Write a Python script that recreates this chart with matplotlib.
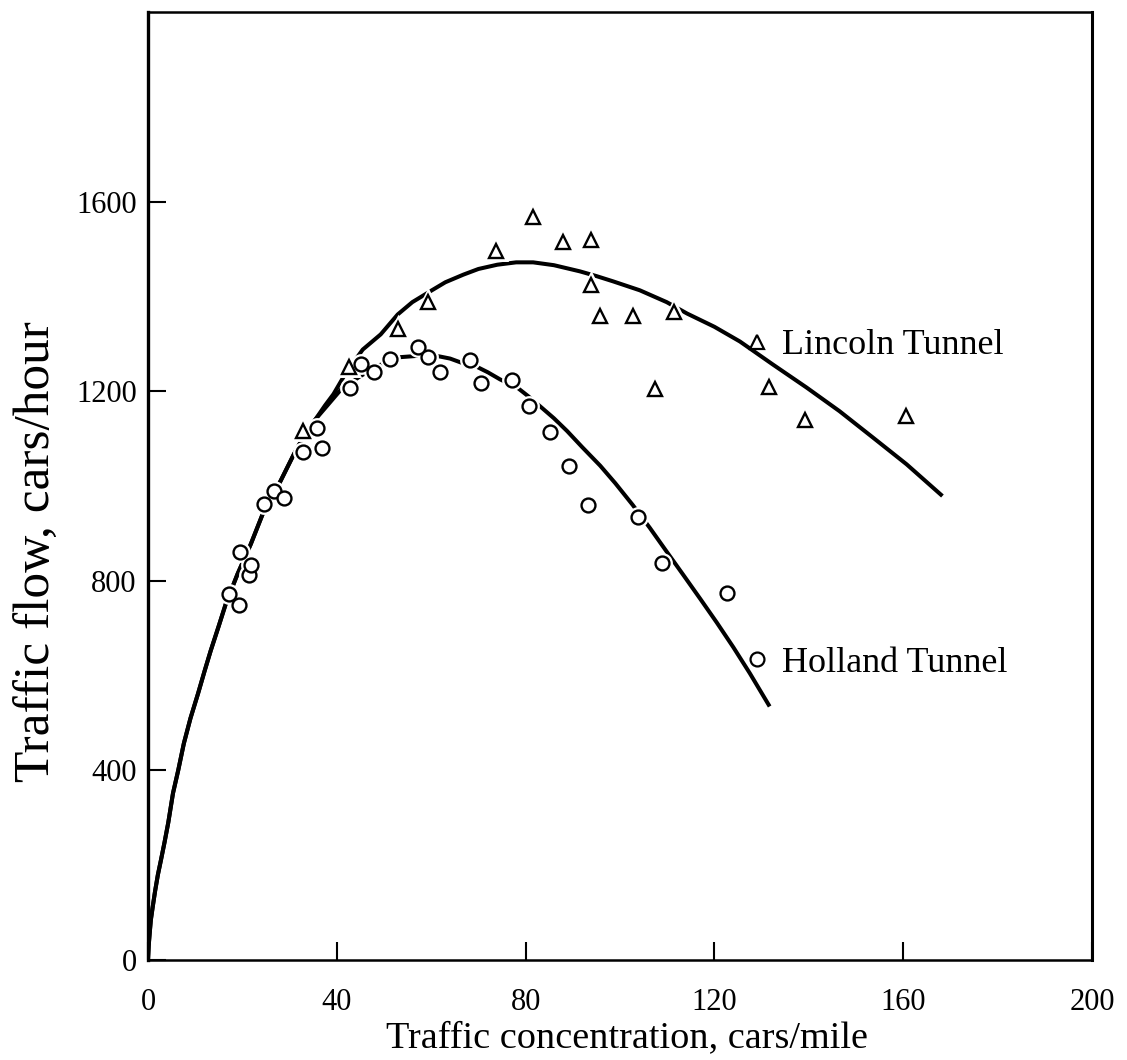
import matplotlib
matplotlib.use("Agg")
import matplotlib.pyplot as plt
from matplotlib.lines import Line2D

plt.rcParams['font.family'] = ['Liberation Serif', 'DejaVu Serif']

# measured points: concentration (cars/mile), flow (cars/hour)
lincoln_k = [32.8, 42.5, 52.9, 59.4, 73.8, 81.6, 87.9, 93.9, 93.9, 95.8,
             102.7, 107.4, 111.4, 131.5, 139.1, 160.5]
lincoln_q = [1116, 1251, 1331, 1389, 1495, 1568, 1514, 1520, 1425, 1358,
             1358, 1204, 1368, 1208, 1139, 1147]

holland_k = [17.1, 19.2, 19.5, 21.4, 21.8, 24.5, 26.8, 28.9, 32.9, 35.9,
             36.9, 42.9, 45.2, 47.8, 51.2, 57.1, 59.4, 61.9, 68.3, 70.6,
             77.2, 80.8, 85.2, 89.2, 93.2, 103.8, 108.9, 122.6]
holland_q = [773, 749, 861, 813, 834, 962, 989, 975, 1072, 1122,
             1080, 1206, 1257, 1240, 1269, 1293, 1272, 1240, 1267, 1217,
             1223, 1168, 1114, 1042, 960, 935, 838, 775]

# fitted curves, shared part from the origin up to the split
common_k = [0, 0.15, 0.35, 0.6, 1.0, 1.5, 2.1, 2.75, 3.5, 4.3, 5.3, 6.4, 7.6,
            9.0, 10.6, 12.0, 13.3, 15.0, 16.5, 19.0, 21.8, 24.3, 26.5, 28.1,
            30.9, 33.0, 35.5]
common_q = [0, 30, 55, 84, 112, 145, 180, 211, 248, 290, 352, 400, 457,
            510, 562, 610, 653, 705, 752, 815, 878, 941, 982, 1011,
            1067, 1105, 1141]

lincoln_fit_k = [37.5, 39.3, 42.0, 45.5, 49.3, 52.9, 56.0, 59.8, 63.0, 66.8,
                 70.0, 74.0, 78.0, 81.6, 86.0, 91.5, 95.0, 98.5, 104.2, 109.9,
                 114.2, 120.0, 125.4, 132.3, 139.5, 146.5, 153.5, 160.7, 168.3]
lincoln_fit_q = [1170, 1194, 1240, 1288, 1320, 1362, 1388, 1411, 1430, 1446,
                 1458, 1467, 1472, 1472, 1466, 1453, 1443, 1432, 1413, 1388,
                 1364, 1336, 1305, 1257, 1208, 1158, 1103, 1046, 979]

holland_fit_k = [38.0, 41.0, 45.0, 49.0, 53.5, 56.2, 58.8, 61.5, 64.0, 66.2,
                 69.8, 72.0, 74.6, 78.2, 80.5, 83.1, 86.0, 88.8, 92.0, 95.8,
                 99.0, 102.7, 106.3, 110.0, 113.3, 117.0, 120.5, 124.0, 127.5,
                 131.7]
holland_fit_q = [1170, 1205, 1232, 1255, 1272, 1274, 1276, 1274, 1269, 1261,
                 1251, 1240, 1225, 1208, 1190, 1168, 1143, 1116, 1082, 1043,
                 1006, 960, 912, 860, 814, 762, 712, 660, 605,
                 535]

x_ticks = [0, 40, 80, 120, 160, 200]
y_ticks = [0, 400, 800, 1200, 1600]

fig = plt.figure(figsize=(11.27, 10.6), dpi=100)
ax = fig.add_axes([0.1313, 0.0943, 0.8377, 0.8943])

lw = 2.9
ax.plot(common_k + lincoln_fit_k, common_q + lincoln_fit_q, color='black', lw=lw,
        solid_capstyle='butt', solid_joinstyle='round', zorder=2)
ax.plot(common_k + holland_fit_k, common_q + holland_fit_q, color='black', lw=lw,
        solid_capstyle='butt', solid_joinstyle='round', zorder=2)

# white halo under the markers so the curves break around them
for k, q, m, ms in [(lincoln_k, lincoln_q, '^', 10.5), (holland_k, holland_q, 'o', 10)]:
    ax.plot(k, q, ls='none', marker=m, ms=ms, mfc='white', mec='white', mew=5, zorder=3)
for k, q, m, ms in [(lincoln_k, lincoln_q, '^', 10.5), (holland_k, holland_q, 'o', 10)]:
    ax.plot(k, q, ls='none', marker=m, ms=ms, mfc='white', mec='black', mew=1.7, zorder=4)

ax.set_xlim(0, 200)
ax.set_ylim(0, 2000)
ax.set_xticks(x_ticks)
ax.set_yticks(y_ticks)
ax.tick_params(direction='in', length=13, width=1.5, labelsize=22)
ax.tick_params(axis='x', pad=20)
ax.tick_params(axis='y', pad=8)
for side, w in [('left', 2.4), ('bottom', 1.8), ('top', 1.8), ('right', 2.2)]:
    ax.spines[side].set_linewidth(w)

ax.set_xlabel('Traffic concentration, cars/mile', fontsize=27.5)
ax.set_ylabel('Traffic flow, cars/hour', fontsize=37)
ax.xaxis.set_label_coords(0.507, -0.064)
ax.yaxis.set_label_coords(-0.092, 0.431)

# series keys next to the curves
def key(marker, label, y):
    h = Line2D([], [], ls='none', marker=marker, ms=10, mfc='white', mec='black', mew=1.6)
    return ax.legend(handles=[h], labels=[label], loc='center left',
                     bbox_to_anchor=(0.630, y), frameon=False, fontsize=26,
                     handlelength=0.8, handletextpad=0.3, borderpad=0,
                     borderaxespad=0)

ax.add_artist(key('^', 'Lincoln Tunnel', 0.648))
key('o', 'Holland Tunnel', 0.313)

fig.savefig('out.png', dpi=100)
